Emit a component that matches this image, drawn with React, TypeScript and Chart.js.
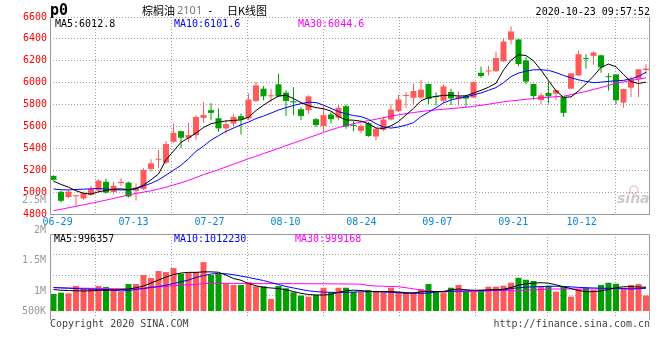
import React, { useEffect, useRef } from 'react';
import { Chart, registerables } from 'chart.js';

Chart.register(...registerables);

// ---------- data ----------
const OPEN = [5148,5003,4955,4962,4942,4975,5015,5094,5000,5082,5087,5012,5027,5212,5296,5269,5460,5557,5494,5521,5678,5748,5675,5582,5627,5694,5673,5833,5945,5875,5985,5909,5830,5757,5748,5666,5603,5709,5680,5785,5612,5560,5630,5508,5570,5663,5740,5878,5862,5864,5988,5875,5835,5915,5850,5880,5864,6090,6102,6105,6195,6392,6395,6203,5988,5842,5906,5900,5869,5945,6066,6222,6245,6250,6055,6075,5818,5954,6036,6116];
const HIGH = [5155,5012,5021,4975,5005,5057,5118,5121,5094,5127,5094,5082,5218,5300,5385,5466,5627,5560,5633,5703,5821,5815,5763,5657,5712,5718,5900,6005,5969,5945,6082,5930,5960,5778,5885,5678,5794,5733,5794,5800,5650,5621,5640,5590,5687,5803,5890,5915,5990,6027,5990,5912,5980,5945,5920,5890,6010,6148,6155,6285,6400,6515,6400,6235,5990,5905,6010,5935,5870,6085,6294,6260,6285,6255,6085,6078,5945,6055,6125,6168];
const LOW = [5105,4905,4945,4875,4930,4966,4991,4985,4985,5057,4950,4924,5020,5187,5218,5257,5451,5400,5460,5475,5633,5657,5551,5536,5597,5527,5660,5824,5839,5824,5869,5696,5703,5657,5718,5596,5551,5627,5657,5580,5555,5538,5505,5475,5555,5655,5733,5769,5794,5850,5805,5792,5815,5794,5790,5780,5860,6045,6068,6098,6190,6348,6150,5985,5845,5805,5809,5839,5687,5940,6060,6127,6165,6090,5927,5805,5770,5870,5869,6075];
const CLOSE = [5112,4921,5005,4968,4991,5027,5105,4996,5057,5094,4960,5042,5203,5263,5302,5439,5542,5497,5521,5687,5705,5724,5582,5621,5687,5663,5845,5975,5875,5885,5875,5833,5820,5696,5875,5612,5703,5666,5770,5600,5605,5605,5512,5578,5663,5754,5846,5886,5924,5936,5851,5868,5966,5856,5873,5855,6005,6060,6110,6225,6376,6468,6170,6010,5877,5885,5875,5932,5724,6085,6260,6215,6275,6140,6050,5840,5942,6032,6122,6128];

const MA5 = [5100,5070,5045,5012,4990,4982,5003,5015,5027,5030,5022,5035,5065,5112,5165,5295,5375,5455,5495,5540,5590,5625,5640,5650,5655,5660,5685,5745,5795,5839,5878,5885,5855,5818,5790,5772,5762,5740,5690,5660,5657,5648,5625,5585,5582,5605,5645,5705,5765,5835,5862,5875,5884,5885,5878,5880,5905,5930,5958,5995,6115,6205,6255,6248,6200,6115,6020,5925,5866,5870,5925,5990,6060,6140,6170,6145,6075,6010,5992,6005];
const MA10 = [5028,5022,5020,5024,5027,5030,5033,5028,5022,5020,5021,5030,5055,5080,5112,5155,5200,5245,5305,5372,5420,5475,5515,5555,5585,5615,5640,5672,5695,5722,5750,5772,5792,5808,5822,5818,5795,5765,5735,5715,5700,5690,5665,5625,5595,5585,5595,5612,5635,5690,5730,5770,5815,5842,5858,5870,5888,5906,5930,5955,6000,6055,6088,6105,6118,6118,6113,6092,6066,6045,6026,6012,6000,6005,6012,6018,6021,6035,6058,6095];
const MA30 = [4830,4843,4857,4870,4884,4898,4912,4927,4942,4958,4975,4988,5000,5012,5028,5045,5065,5085,5108,5133,5160,5182,5205,5230,5255,5280,5305,5328,5352,5376,5400,5425,5448,5472,5497,5520,5545,5568,5590,5608,5625,5640,5653,5666,5680,5695,5706,5717,5727,5736,5745,5751,5757,5763,5769,5775,5784,5793,5803,5814,5825,5833,5840,5848,5855,5862,5866,5872,5876,5890,5905,5920,5938,5955,5975,5995,6008,6020,6032,6044];

const VOLUME = [885000,906000,896000,1016000,979000,979000,1016000,1000000,967000,923000,1049000,1049000,1198000,1148000,1264000,1247000,1313000,1219000,1236000,1247000,1412000,1198000,1219000,1061000,1033000,1033000,1082000,1012000,1012000,802000,1016000,979000,913000,857000,840000,868000,988000,913000,988000,988000,918000,913000,951000,934000,934000,988000,913000,913000,913000,962000,1049000,923000,913000,988000,1033000,923000,951000,951000,1005000,1005000,1021000,1071000,1153000,1120000,1099000,1005000,1021000,923000,1000000,840000,967000,988000,951000,1033000,1071000,1054000,988000,1033000,1049000,857000];
const VMA5 = [959000,946000,941000,937000,934000,937000,944000,947000,951000,957000,967000,987000,1016000,1066000,1115000,1165000,1206000,1231000,1242000,1242000,1250000,1250000,1244000,1198000,1140000,1112000,1058000,1020000,993000,984000,974000,952000,926000,895000,875000,868000,868000,876000,913000,937000,947000,942000,926000,923000,923000,923000,918000,904000,901000,921000,923000,923000,926000,951000,967000,954000,946000,946000,951000,957000,962000,992000,1030000,1053000,1063000,1071000,1063000,1036000,1003000,974000,941000,923000,923000,934000,959000,987000,1005000,1005000,1000000,996000];
const VMA10 = [992000,985000,979000,974000,967000,964000,960000,957000,947000,934000,942000,959000,975000,995000,1008000,1030000,1058000,1086000,1115000,1157000,1189000,1214000,1226000,1218000,1204000,1181000,1157000,1132000,1107000,1074000,1041000,1008000,984000,959000,937000,923000,916000,911000,908000,911000,916000,921000,923000,923000,921000,911000,904000,898000,896000,896000,898000,918000,926000,929000,932000,936000,941000,944000,947000,949000,951000,974000,987000,997000,1003000,1007000,1010000,1012000,1008000,1002000,993000,988000,984000,980000,979000,977000,974000,967000,972000,979000];
const VMA30 = [988000,986000,984000,982000,980000,978000,976000,974000,972000,970000,969000,968000,975000,988000,1000000,1010000,1021000,1030000,1037000,1043000,1055000,1060000,1061000,1061000,1060000,1059000,1058000,1057000,1056000,1056000,1055000,1055000,1055000,1054000,1054000,1053000,1053000,1052000,1051000,1050000,1050000,1045000,1025000,1016000,1012000,1008000,1005000,987000,970000,951000,934000,926000,923000,923000,923000,923000,924000,928000,934000,941000,946000,937000,937000,947000,954000,959000,964000,967000,967000,967000,967000,967000,967000,970000,977000,975000,970000,967000,977000,987000];

const X_TICK_INDEX = [1, 11, 21, 31, 41, 51, 61, 70];
const X_TICK_LABELS = ['06-29', '07-13', '07-27', '08-10', '08-24', '09-07', '09-21', '10-12'];
const VOL_TICK_VALUES = [1000000, 1500000, 2000000, 2500000];
const VOL_TICK_LABELS = ['1M', '1.5M', '2M', '2.5M'];
const VOL_FLOOR_VALUE = 500000;
const VOL_FLOOR_LABEL = '500K';
const PRICE_MA_LAST = [6012.8, 6101.6, 6044.6];
const VOL_MA_LAST = [996357, 1012230, 999168];
const SYMBOL = 'p0';
const TITLE_NAME = '棕榈油';
const TITLE_CODE = '2101';
const TITLE_KIND = '日K线图';
const TIMESTAMP = '2020-10-23 09:57:52';

// ---------- styles / layout ----------
const W = 660, H = 360;
const PLOT_L = 50, PLOT_R = 650;
const PRICE_TOP = 17, PRICE_BOTTOM = 214;
const VOL_TOP = 234, VOL_BOTTOM = 316;
const PRICE_MIN = 4800, PRICE_MAX = 6600;
const VOL_MIN = 520000, VOL_MAX = 1877000, VOL_BASE = 603000;
const N = OPEN.length;
const X_MIN = -0.4667, X_MAX = X_MIN + N;

const RED = '#ff5a5a';
const GREEN = '#00a000';
const GRID = '#a0a0a0';
const FRAME = '#999999';
const MONO = '"DejaVu Sans Mono", monospace';
const CJK = '"Noto Sans CJK SC", sans-serif';

const idx = OPEN.map((_, i) => i);
const candleColors = idx.map((i) => (CLOSE[i] >= OPEN[i] ? RED : GREEN));

const lineDs = (label: string, values: number[], color: string) => ({
  type: 'line' as const,
  label,
  data: values.map((y, i) => ({ x: i, y })),
  borderColor: color,
  borderWidth: 1,
  pointRadius: 0,
  tension: 0,
  order: 0,
  xAxisID: 'x',
  yAxisID: 'y',
});

const candleX = () => ({ type: 'linear', display: false, min: X_MIN, max: X_MAX, bounds: 'data', offset: false });

const labelX = (showLabels: boolean, height: number) => ({
  type: 'linear',
  position: 'bottom',
  min: 0,
  max: N - 1,
  bounds: 'data',
  offset: false,
  afterBuildTicks: (s: any) => { s.ticks = X_TICK_INDEX.map((v) => ({ value: v })); },
  afterFit: (s: any) => { s.height = height; },
  ticks: {
    display: showLabels,
    autoSkip: false,
    maxRotation: 0,
    minRotation: 0,
    padding: 2,
    color: '#0a84d8',
    font: { family: MONO, size: 10 },
    callback: (_v: any, i: number) => X_TICK_LABELS[i],
  },
  grid: { color: GRID, lineWidth: 1, drawTicks: false },
  border: { display: false, dash: [1, 2] },
});

const pricePlugin = {
  id: 'priceDecor',
  afterDraw(chart: any) {
    const { ctx, chartArea } = chart;
    const { left, right, top, bottom } = chartArea;
    ctx.save();
    ctx.setLineDash([]);
    ctx.strokeStyle = FRAME;
    ctx.lineWidth = 1;
    ctx.beginPath();
    ctx.moveTo(left + 0.5, top);
    ctx.lineTo(left + 0.5, bottom + 0.5);
    ctx.lineTo(right - 0.5, bottom + 0.5);
    ctx.lineTo(right - 0.5, top);
    ctx.stroke();

    ctx.textBaseline = 'middle';
    ctx.textAlign = 'left';
    ctx.fillStyle = '#000';
    ctx.font = `bold 15px ${MONO}`;
    ctx.fillText(SYMBOL, 50, 11);
    ctx.font = `11px ${CJK}`;
    ctx.fillText(TITLE_NAME, 142, 11);
    ctx.fillStyle = '#777';
    ctx.font = '11px "Noto Sans", sans-serif';
    ctx.fillText(TITLE_CODE, 177, 11);
    ctx.fillStyle = '#000';
    ctx.font = `11px ${MONO}`;
    ctx.fillText('-', 207, 11);
    ctx.font = `11px ${CJK}`;
    ctx.fillText(TITLE_KIND, 227, 11);

    ctx.font = `10px ${MONO}`;
    ctx.textAlign = 'right';
    ctx.fillText(TIMESTAMP, 650, 12);

    ctx.textAlign = 'left';
    ctx.fillStyle = '#000';
    ctx.fillText(`MA5:${PRICE_MA_LAST[0].toFixed(1)}`, 55, 24);
    ctx.fillStyle = '#0000ff';
    ctx.fillText(`MA10:${PRICE_MA_LAST[1].toFixed(1)}`, 174, 24);
    ctx.fillStyle = '#ff00ff';
    ctx.fillText(`MA30:${PRICE_MA_LAST[2].toFixed(1)}`, 298, 24);

    // watermark
    ctx.fillStyle = 'rgba(160,160,160,0.55)';
    ctx.font = `italic bold 14px "DejaVu Sans", sans-serif`;
    ctx.textBaseline = 'alphabetic';
    ctx.fillText('sina', 617, 203);
    ctx.strokeStyle = 'rgba(230,140,140,0.5)';
    ctx.lineWidth = 1.5;
    ctx.beginPath();
    ctx.arc(634, 190, 4, 0, Math.PI * 2);
    ctx.stroke();
    ctx.restore();
  },
};

const volPlugin = {
  id: 'volDecor',
  afterDraw(chart: any) {
    const { ctx, chartArea, scales } = chart;
    const { left, right, top, bottom } = chartArea;
    ctx.save();
    ctx.setLineDash([]);
    ctx.strokeStyle = FRAME;
    ctx.lineWidth = 1;
    ctx.beginPath();
    ctx.moveTo(left + 0.5, bottom + 4);
    ctx.lineTo(left + 0.5, top + 0.5);
    ctx.lineTo(right - 0.5, top + 0.5);
    ctx.lineTo(right - 0.5, bottom + 4);
    ctx.stroke();

    ctx.textBaseline = 'middle';
    ctx.font = `10px ${MONO}`;
    ctx.textAlign = 'right';
    ctx.fillStyle = '#999';
    const fy = Math.min(scales.y.getPixelForValue(VOL_FLOOR_VALUE) + 4, bottom - 5);
    ctx.fillText(VOL_FLOOR_LABEL, left - 4, fy);

    ctx.textAlign = 'left';
    ctx.fillStyle = '#000';
    ctx.fillText(`MA5:${VOL_MA_LAST[0]}`, 54, 239);
    ctx.fillStyle = '#0000ff';
    ctx.fillText(`MA10:${VOL_MA_LAST[1]}`, 174, 239);
    ctx.fillStyle = '#ff00ff';
    ctx.fillText(`MA30:${VOL_MA_LAST[2]}`, 295, 239);

    ctx.fillStyle = '#444';
    ctx.fillText('Copyright 2020 SINA.COM', 50, 324);
    ctx.textAlign = 'right';
    ctx.fillText('http://finance.sina.com.cn', 650, 324);
    ctx.restore();
  },
};

function priceConfig(): any {
  return {
    type: 'bar',
    data: {
      datasets: [
        lineDs('MA5', MA5, '#000000'),
        lineDs('MA10', MA10, '#0000ff'),
        lineDs('MA30', MA30, '#ff00ff'),
        {
          type: 'bar',
          label: 'body',
          data: idx.map((i) => ({ x: i, y: [OPEN[i], CLOSE[i]] })),
          backgroundColor: candleColors,
          barThickness: 6,
          minBarLength: 1,
          grouped: false,
          inflateAmount: 0,
          order: 2,
          xAxisID: 'x',
          yAxisID: 'y',
        },
        {
          type: 'bar',
          label: 'wick',
          data: idx.map((i) => ({ x: i, y: [LOW[i], HIGH[i]] })),
          backgroundColor: candleColors,
          barThickness: 1,
          grouped: false,
          inflateAmount: 0,
          order: 3,
          xAxisID: 'x',
          yAxisID: 'y',
        },
      ],
    },
    options: {
      responsive: false,
      animation: false,
      devicePixelRatio: 1,
      events: [],
      layout: { padding: { left: 0, right: W - PLOT_R, top: PRICE_TOP, bottom: 0 } },
      plugins: { legend: { display: false }, tooltip: { enabled: false } },
      scales: {
        x: candleX(),
        xl: labelX(true, H - PRICE_BOTTOM),
        y: {
          type: 'linear',
          position: 'left',
          min: PRICE_MIN,
          max: PRICE_MAX,
          bounds: 'data',
          afterFit: (s: any) => { s.width = PLOT_L; },
          ticks: {
            stepSize: 200,
            padding: 3,
            autoSkip: false,
            color: '#ff0000',
            font: { family: MONO, size: 10 },
            callback: (v: any) => String(v),
          },
          grid: { color: GRID, lineWidth: 1, drawTicks: false },
          border: { display: false, dash: [1, 2] },
        },
      },
    },
    plugins: [pricePlugin],
  };
}

function volConfig(): any {
  return {
    type: 'bar',
    data: {
      datasets: [
        lineDs('VMA5', VMA5, '#000000'),
        lineDs('VMA10', VMA10, '#0000ff'),
        lineDs('VMA30', VMA30, '#ff00ff'),
        {
          type: 'bar',
          label: 'volume',
          data: idx.map((i) => ({ x: i, y: [VOL_BASE, VOLUME[i]] })),
          backgroundColor: candleColors,
          barThickness: 6,
          grouped: false,
          inflateAmount: 0,
          order: 2,
          xAxisID: 'x',
          yAxisID: 'y',
        },
      ],
    },
    options: {
      responsive: false,
      animation: false,
      devicePixelRatio: 1,
      events: [],
      layout: { padding: { left: 0, right: W - PLOT_R, top: VOL_TOP, bottom: H - VOL_BOTTOM } },
      plugins: { legend: { display: false }, tooltip: { enabled: false } },
      scales: {
        x: candleX(),
        xl: labelX(false, 0),
        y: {
          type: 'linear',
          position: 'left',
          min: VOL_MIN,
          max: VOL_MAX,
          bounds: 'data',
          afterFit: (s: any) => { s.width = PLOT_L; },
          afterBuildTicks: (s: any) => { s.ticks = VOL_TICK_VALUES.map((v) => ({ value: v })); },
          ticks: {
            padding: 4,
            labelOffset: 4,
            autoSkip: false,
            color: '#999999',
            font: { family: MONO, size: 10 },
            callback: (_v: any, i: number) => VOL_TICK_LABELS[i],
          },
          grid: { display: false, drawTicks: false },
          border: { display: false },
        },
        yg: {
          type: 'linear',
          position: 'right',
          min: 0,
          max: 4,
          bounds: 'data',
          afterBuildTicks: (s: any) => { s.ticks = [1, 2, 3].map((v) => ({ value: v })); },
          afterFit: (s: any) => { s.width = 0; },
          ticks: { display: false },
          grid: { color: GRID, lineWidth: 1, drawTicks: false },
          border: { display: false, dash: [1, 2] },
        },
      },
    },
    plugins: [volPlugin],
  };
}

export default function App() {
  const priceRef = useRef<HTMLCanvasElement>(null);
  const volRef = useRef<HTMLCanvasElement>(null);

  useEffect(() => {
    const c1 = new Chart(priceRef.current as HTMLCanvasElement, priceConfig());
    const c2 = new Chart(volRef.current as HTMLCanvasElement, volConfig());
    return () => {
      c1.destroy();
      c2.destroy();
    };
  }, []);

  return (
    <div style={{ position: 'fixed', left: 0, top: 0, width: W, height: H, background: '#fff' }}>
      <canvas ref={volRef} width={W} height={H} style={{ position: 'absolute', left: 0, top: 0 }} />
      <canvas ref={priceRef} width={W} height={H} style={{ position: 'absolute', left: 0, top: 0 }} />
    </div>
  );
}
